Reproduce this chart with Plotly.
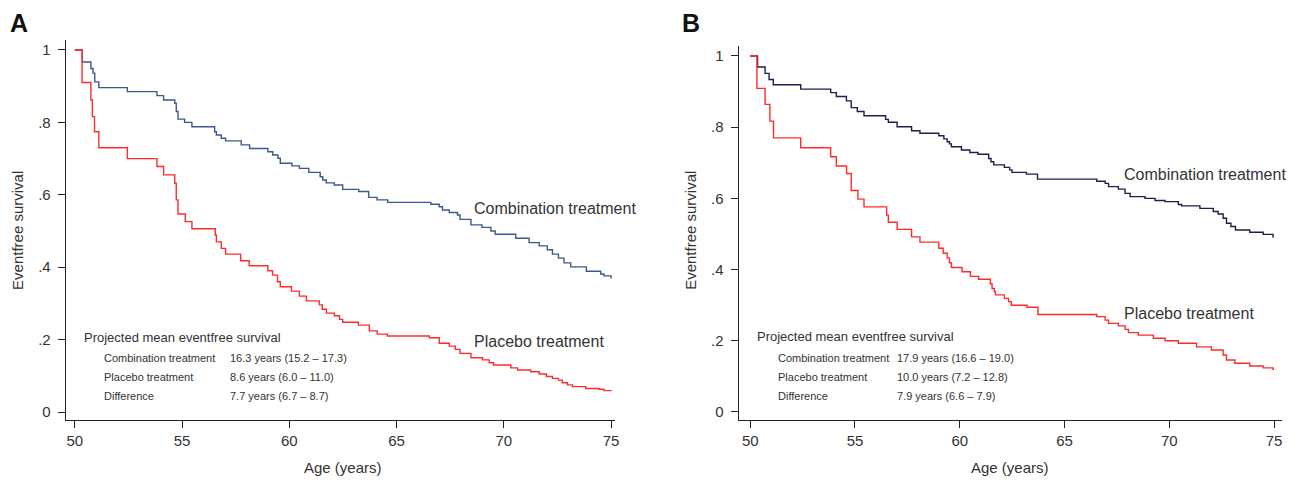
import plotly.graph_objects as go

# ---------------- data ----------------
a_comb_t = [50, 50.35, 50.75, 50.85, 50.93, 51.12, 52.45, 53.83, 54.14, 54.66, 54.73, 54.81, 55.12, 55.46,
            56.52, 56.6, 56.83, 57.03, 57.76, 58.15, 59.0, 59.23, 59.47, 59.58, 60.12, 60.47, 60.91, 61.44,
            61.56, 61.72, 62.1, 62.49, 63.24, 63.7, 64.09, 64.59, 66.6, 66.99, 67.14, 67.46, 67.84, 67.96,
            68.47, 68.98, 69.4, 69.6, 70.56, 71.18, 71.65, 72.03, 72.27, 72.55, 72.81, 73.12, 73.85, 74.52,
            74.67, 75.0]
a_comb_s = [1.0, 0.967, 0.949, 0.936, 0.912, 0.896, 0.885, 0.874, 0.862, 0.853, 0.83, 0.809, 0.80, 0.788,
            0.774, 0.765, 0.756, 0.749, 0.738, 0.728, 0.719, 0.710, 0.701, 0.687, 0.680, 0.673, 0.662, 0.650,
            0.641, 0.633, 0.627, 0.615, 0.609, 0.593, 0.586, 0.579, 0.574, 0.567, 0.558, 0.551, 0.544, 0.532,
            0.517, 0.510, 0.500, 0.491, 0.480, 0.468, 0.459, 0.448, 0.436, 0.425, 0.412, 0.401, 0.389, 0.381,
            0.376, 0.369]

a_plac_t = [50, 50.34, 50.75, 50.82, 50.92, 51.12, 52.45, 53.83, 54.14, 54.66, 54.73, 54.81, 55.15, 55.46,
            56.55, 56.6, 56.83, 57.03, 57.73, 58.13, 59.0, 59.22, 59.45, 59.58, 60.1, 60.47, 60.8, 61.4,
            61.54, 61.73, 62.1, 62.34, 62.49, 63.22, 63.73, 64.1, 64.57, 66.53, 66.99, 67.46, 67.74, 67.96,
            68.47, 69.01, 69.32, 69.52, 70.33, 70.64, 71.26, 71.65, 71.99, 72.27, 72.55, 72.73, 72.97, 73.2,
            73.82, 74.44, 74.67, 75.0]
a_plac_s = [1.0, 0.91, 0.862, 0.816, 0.774, 0.730, 0.70, 0.678, 0.655, 0.632, 0.586, 0.547, 0.526, 0.506,
            0.489, 0.470, 0.452, 0.436, 0.418, 0.404, 0.390, 0.378, 0.360, 0.346, 0.334, 0.320, 0.307, 0.296,
            0.284, 0.273, 0.266, 0.256, 0.248, 0.240, 0.224, 0.215, 0.210, 0.205, 0.19, 0.182, 0.173, 0.162,
            0.150, 0.144, 0.136, 0.130, 0.122, 0.116, 0.111, 0.105, 0.098, 0.093, 0.088, 0.081, 0.075, 0.070,
            0.065, 0.063, 0.059, 0.058]

b_comb_t = [50, 50.35, 50.71, 50.9, 51.1, 52.41, 53.84, 54.11, 54.59, 54.82, 55.11, 55.43, 56.46, 56.59,
            57.01, 57.7, 58.1, 59.0, 59.24, 59.4, 59.51, 59.6, 60.08, 60.48, 60.87, 61.38, 61.49, 61.62,
            62.13, 62.38, 62.49, 63.18, 63.71, 66.54, 66.94, 67.1, 67.57, 67.89, 68.13, 68.84, 69.32, 69.8,
            70.43, 70.59, 71.46, 72.1, 72.33, 72.57, 72.73, 72.94, 73.16, 73.84, 74.48, 74.95, 75.0]
b_comb_s = [1.0, 0.969, 0.951, 0.934, 0.919, 0.907, 0.897, 0.886, 0.874, 0.855, 0.844, 0.832, 0.822, 0.814,
            0.801, 0.790, 0.783, 0.776, 0.767, 0.759, 0.753, 0.745, 0.736, 0.729, 0.724, 0.712, 0.703, 0.694,
            0.687, 0.680, 0.673, 0.668, 0.654, 0.648, 0.642, 0.633, 0.626, 0.614, 0.605, 0.600, 0.594, 0.591,
            0.583, 0.579, 0.572, 0.563, 0.556, 0.544, 0.530, 0.521, 0.511, 0.505, 0.499, 0.492, 0.492]

b_plac_t = [50, 50.32, 50.71, 50.94, 51.11, 52.41, 53.84, 54.11, 54.6, 54.82, 55.14, 55.43, 56.51, 56.59,
            57.01, 57.7, 58.1, 59.0, 59.21, 59.4, 59.51, 59.6, 60.11, 60.51, 60.9, 61.46, 61.54, 61.65, 61.7,
            62.13, 62.33, 62.46, 63.21, 63.73, 66.54, 66.94, 67.1, 67.57, 67.89, 68.05, 68.52, 69.24, 69.8,
            70.43, 71.3, 72.01, 72.57, 72.73, 73.13, 73.84, 74.48, 74.95, 75.0]
b_plac_s = [1.0, 0.909, 0.864, 0.817, 0.770, 0.742, 0.717, 0.691, 0.670, 0.622, 0.598, 0.576, 0.553, 0.533,
            0.513, 0.492, 0.477, 0.460, 0.446, 0.433, 0.419, 0.406, 0.394, 0.381, 0.373, 0.360, 0.347, 0.338,
            0.329, 0.319, 0.310, 0.300, 0.294, 0.274, 0.268, 0.258, 0.249, 0.242, 0.232, 0.223, 0.216, 0.207,
            0.200, 0.193, 0.183, 0.174, 0.160, 0.146, 0.137, 0.129, 0.124, 0.120, 0.120]

x_ticks = [50, 55, 60, 65, 70, 75]
y_ticks = [0, 0.2, 0.4, 0.6, 0.8, 1]
y_tick_labels = ["0", ".2", ".4", ".6", ".8", "1"]

table_rows = ["Combination treatment", "Placebo treatment", "Difference"]
table_a = ["16.3 years (15.2 – 17.3)", "8.6 years (6.0 – 11.0)", "7.7 years (6.7 – 8.7)"]
table_b = ["17.9 years (16.6 – 19.0)", "10.0 years (7.2 – 12.8)", "7.9 years (6.6 – 7.9)"]

# ---------------- figure ----------------
W, H = 1294, 480
FONT = "Liberation Sans, Arial, Helvetica, sans-serif"
TXT = "#333333"
RED = "#ff2b2b"
BLUE_A = "#3b5a8a"
BLUE_B = "#1c1f4d"


def px(x):
    return x / W


def py(y):
    return 1 - y / H


fig = go.Figure()
fig.add_trace(go.Scatter(x=a_comb_t, y=a_comb_s, mode="lines", line=dict(shape="hv", color=BLUE_A, width=1.4),
                         xaxis="x", yaxis="y", showlegend=False))
fig.add_trace(go.Scatter(x=a_plac_t, y=a_plac_s, mode="lines", line=dict(shape="hv", color=RED, width=1.4),
                         xaxis="x", yaxis="y", showlegend=False))
fig.add_trace(go.Scatter(x=b_comb_t, y=b_comb_s, mode="lines", line=dict(shape="hv", color=BLUE_B, width=1.4),
                         xaxis="x2", yaxis="y2", showlegend=False))
fig.add_trace(go.Scatter(x=b_plac_t, y=b_plac_s, mode="lines", line=dict(shape="hv", color=RED, width=1.4),
                         xaxis="x2", yaxis="y2", showlegend=False))

axis_common = dict(showgrid=False, zeroline=False, showline=True, linecolor="#222222", linewidth=1.2,
                   ticks="outside", ticklen=7, tickwidth=1.2, tickcolor="#222222",
                   tickfont=dict(family=FONT, size=15, color=TXT))

fig.update_layout(
    width=W, height=H,
    margin=dict(l=0, r=0, t=0, b=0),
    paper_bgcolor="white", plot_bgcolor="white",
    xaxis=dict(domain=[px(66), px(617)], range=[49.58, 75.19], tickvals=x_ticks, anchor="y", **axis_common),
    yaxis=dict(domain=[py(420), py(40)], range=[-0.0221, 1.0276], tickvals=y_ticks, ticktext=y_tick_labels,
               anchor="x", ticklabelstandoff=4, **axis_common),
    xaxis2=dict(domain=[px(741), px(1286)], range=[49.45, 75.38], tickvals=x_ticks, anchor="y2", **axis_common),
    yaxis2=dict(domain=[py(420), py(46)], range=[-0.0225, 1.028], tickvals=y_ticks, ticktext=y_tick_labels,
                anchor="x2", ticklabelstandoff=4, **axis_common),
)

ann = []


def text(x, y, s, size, xanchor="left", bold=False, angle=0, color=TXT):
    ann.append(dict(x=px(x), y=py(y), xref="paper", yref="paper", text=(f"<b>{s}</b>" if bold else s),
                    showarrow=False, xanchor=xanchor, yanchor="middle", textangle=angle,
                    font=dict(family=FONT, size=size, color=color)))


# panel labels
text(8, 23, "A", 25, bold=True, color="#111111")
text(682, 23, "B", 25, bold=True, color="#111111")

# axis titles
text(17, 230, "Eventfree survival", 15, xanchor="center", angle=-90)
text(692, 230, "Eventfree survival", 15, xanchor="center", angle=-90)
text(344, 467, "Age (years)", 15, xanchor="center")
text(1013, 467, "Age (years)", 15, xanchor="center")

# curve labels
text(473, 208, "Combination treatment", 16)
text(473, 341, "Placebo treatment", 16)
text(1125, 175, "Combination treatment", 16)
text(1125, 313, "Placebo treatment", 16)

# tables
text(82, 337, "Projected mean eventfree survival", 13)
text(757, 336, "Projected mean eventfree survival", 13)
row_y = [358, 377, 396]
for i, lab in enumerate(table_rows):
    text(102, row_y[i], lab, 11)
    text(229, row_y[i], table_a[i], 11)
    text(778, row_y[i], lab, 11)
    text(898, row_y[i], table_b[i], 11)

fig.update_layout(annotations=ann)
fig.write_html(
    "out.html",
    config={"displayModeBar": False},
    post_script="document.body.style.margin='0';document.body.style.padding='0';"
                "document.body.style.overflow='hidden';",
)
